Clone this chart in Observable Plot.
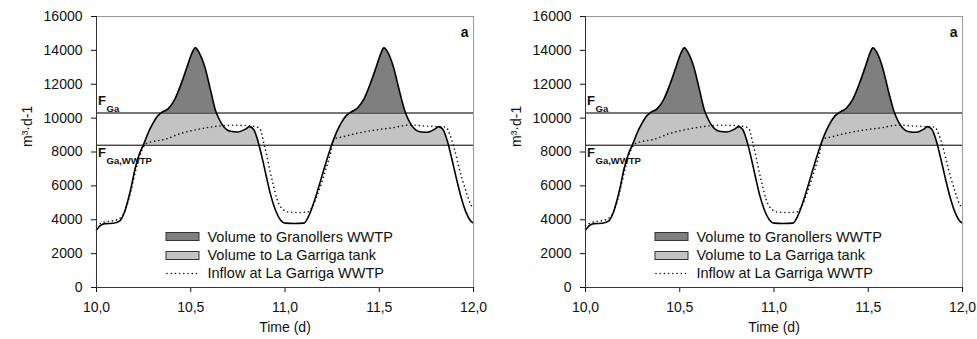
<!DOCTYPE html>
<html><head><meta charset="utf-8">
<script src="https://cdn.jsdelivr.net/npm/d3@7"></script>
<script src="https://cdn.jsdelivr.net/npm/@observablehq/plot@0.6"></script>
<style>
body{margin:0;background:#fff;}
#wrap{display:flex;width:977px;height:339px;overflow:hidden;}
#wrap > div{flex:none;}
#p2{margin-left:1px;}
</style></head><body><div id="wrap"><div id="p1"></div><div id="p2"></div></div>
<script>
// ---- data ----
const timeSolid = [10.000,10.020,10.045,10.090,10.125,10.150,10.180,10.207,10.230,10.250,10.275,10.300,10.322,10.345,10.380,10.415,10.450,10.480,10.505,10.525,10.545,10.575,10.605,10.630,10.650,10.676,10.710,10.750,10.790,10.812,10.834,10.855,10.878,10.900,10.923,10.950,10.976,11.000,11.050,11.100,11.127,11.162,11.197,11.232,11.250,11.275,11.300,11.325,11.350,11.385,11.420,11.455,11.485,11.508,11.525,11.547,11.577,11.607,11.635,11.655,11.680,11.715,11.755,11.795,11.815,11.838,11.860,11.885,11.910,11.935,11.960,11.980,12.000];
const flowSolid = [3400,3650,3770,3790,3950,4500,5730,7110,7950,8450,9150,9700,10100,10330,10550,11100,12050,13000,13800,14150,13850,13000,11650,10500,9950,9480,9220,9180,9350,9500,9330,8700,7700,6600,5500,4550,3990,3800,3780,3800,4250,5330,6620,7900,8500,9200,9750,10150,10350,10600,11150,12100,13050,13800,14150,13850,12950,11600,10450,9900,9450,9200,9170,9350,9500,9330,8700,7600,6400,5300,4450,4000,3800];
const timeInflow = [10.000,10.048,10.092,10.136,10.160,10.185,10.212,10.240,10.265,10.300,10.357,10.446,10.534,10.640,10.711,10.800,10.865,10.888,10.905,10.920,10.935,10.958,10.985,11.020,11.070,11.120,11.144,11.180,11.215,11.241,11.262,11.300,11.392,11.480,11.569,11.658,11.747,11.853,11.874,11.897,11.924,11.960,11.986,12.000];
const flowInflow = [3650,3890,3950,4200,4800,5800,7100,8100,8500,8620,8730,9090,9330,9520,9580,9560,9420,8500,7700,6900,6200,5200,4650,4450,4430,4450,4740,5730,6920,7900,8780,8880,9130,9300,9430,9590,9530,9470,9040,8250,7060,5680,4890,4650];
const F_GA = 10300;
const F_GA_WWTP = 8400;
const xTicks = [10, 10.5, 11, 11.5, 12];
const yTicks = [0, 2000, 4000, 6000, 8000, 10000, 12000, 14000, 16000];
const legendLabels = ["Volume to Granollers WWTP", "Volume to La Garriga tank", "Inflow at La Garriga WWTP"];
const panelLabel = "a";
const xLabel = "Time (d)";
const yLabel = "m³·d-1";
const thresholdLabels = [
  {name: "F", sub: "Ga", value: F_GA, above: true},
  {name: "F", sub: "Ga,WWTP", value: F_GA_WWTP, above: false}
];

const solid = timeSolid.map((t, i) => ({t, v: flowSolid[i]}));
const inflow = timeInflow.map((t, i) => ({t, v: flowInflow[i]}));

const FONT = "'Liberation Sans', Arial, Helvetica, sans-serif";
const DARK = "#7f7f7f", LIGHT = "#c3c3c3";
const DOTS = "0.01 4.2";

function makePanel(id) {
  const W = 488;
  const above = thresholdLabels.filter(d => d.above);
  const below = thresholdLabels.filter(d => !d.above);
  const plot = Plot.plot({
    width: W, height: 339,
    marginLeft: 96, marginRight: 15, marginTop: 16, marginBottom: 52,
    style: {fontFamily: FONT, fontSize: "14px", color: "#111", background: "white", overflow: "visible"},
    x: {domain: [10, 12]},
    y: {domain: [0, 16000]},
    marks: [
      Plot.areaY(solid, {x: "t", y1: F_GA, y2: "v", fill: DARK, curve: "monotone-x", ariaDescription: "dark"}),
      Plot.areaY(solid, {x: "t", y1: F_GA_WWTP, y2: "v", fill: LIGHT, curve: "monotone-x", ariaDescription: "light"}),
      Plot.ruleY([F_GA, F_GA_WWTP], {stroke: "#000", strokeWidth: 1}),
      Plot.line(inflow, {x: "t", y: "v", stroke: "#111", strokeWidth: 1.6, strokeDasharray: DOTS, strokeLinecap: "round", curve: "monotone-x"}),
      Plot.line(solid, {x: "t", y: "v", stroke: "#000", strokeWidth: 1.6, curve: "monotone-x"}),
      Plot.frame({stroke: "#999"}),
      Plot.axisX({ticks: xTicks, tickFormat: d => d.toFixed(1).replace(".", ","), tickSize: 5, tickPadding: 10, label: null}),
      Plot.axisY({ticks: yTicks, tickFormat: d => String(d), tickSize: 5, tickPadding: 9, label: null}),
      Plot.ruleX([10], {stroke: "#333"}),
      Plot.ruleY([0], {stroke: "#333"}),
      Plot.text([xLabel], {frameAnchor: "bottom", dy: 44, fontSize: 14}),
      Plot.text([yLabel], {frameAnchor: "left", dx: -69, dy: -5, rotate: -90, fontSize: 14}),
      Plot.text([panelLabel], {frameAnchor: "top-right", dx: -5, dy: 11, fontWeight: "bold", fontSize: 14}),
      Plot.text(above, {x: 10, y: "value", text: "name", textAnchor: "start", dx: 1.5, dy: -12.4, fontWeight: "bold", fontSize: 13}),
      Plot.text(above, {x: 10, y: "value", text: "sub", textAnchor: "start", dx: 10, dy: -4.5, fontWeight: "bold", fontSize: 9.5}),
      Plot.text(below, {x: 10, y: "value", text: "name", textAnchor: "start", dx: 1.5, dy: 8, fontWeight: "bold", fontSize: 13}),
      Plot.text(below, {x: 10, y: "value", text: "sub", textAnchor: "start", dx: 10, dy: 16, fontWeight: "bold", fontSize: 9.5})
    ]
  });
  document.getElementById(id).appendChild(plot);

  // clip the filled areas to their bands, using the plot's own y scale
  const svg = d3.select(plot);
  const ys = plot.scale("y");
  const yGa = ys.apply(F_GA), yW = ys.apply(F_GA_WWTP);
  const defs = svg.insert("defs", ":first-child");
  defs.append("clipPath").attr("id", id + "-cd").append("rect")
    .attr("x", 0).attr("y", 0).attr("width", W).attr("height", yGa);
  defs.append("clipPath").attr("id", id + "-cl").append("rect")
    .attr("x", 0).attr("y", yGa).attr("width", W).attr("height", yW - yGa);
  let gd = svg.select('g[aria-description="dark"]');
  let gl = svg.select('g[aria-description="light"]');
  if (gd.empty() || gl.empty()) {
    const areas = svg.selectAll('g[aria-label="area"]').nodes();
    gd = d3.select(areas[0]); gl = d3.select(areas[1]);
  }
  gd.attr("clip-path", `url(#${id}-cd)`);
  gl.attr("clip-path", `url(#${id}-cl)`);

  // legend
  const lg = svg.append("g").attr("font-family", FONT).attr("font-size", 14.5)
    .attr("fill", "#111").attr("text-anchor", "start");
  const rows = [
    {type: "rect", fill: DARK, y: 232.5, base: 241.6},
    {type: "rect", fill: LIGHT, y: 251.5, base: 259.9},
    {type: "line", y: 273.5, base: 278.2}
  ];
  rows.forEach((r, i) => {
    if (r.type === "rect") {
      lg.append("rect").attr("x", 166).attr("y", r.y).attr("width", 33).attr("height", 8)
        .attr("fill", r.fill).attr("stroke", "#333").attr("stroke-width", 1);
    } else {
      lg.append("line").attr("x1", 167).attr("x2", 199).attr("y1", r.y).attr("y2", r.y)
        .attr("stroke", "#111").attr("stroke-width", 1.6).attr("stroke-linecap", "round")
        .attr("stroke-dasharray", DOTS);
    }
    lg.append("text").attr("x", 207.5).attr("y", r.base).attr("text-anchor", "start").text(legendLabels[i]);
  });
}
makePanel("p1");
makePanel("p2");
</script>
</body></html>
